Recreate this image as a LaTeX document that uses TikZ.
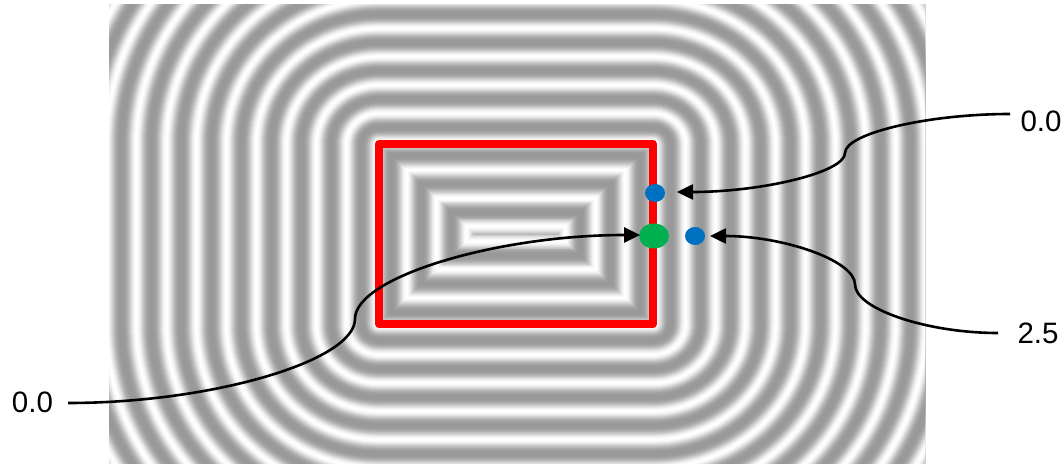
\documentclass[tikz,border=0pt]{standalone}
\usepackage{fontspec}
\setmainfont{Liberation Sans}
\usetikzlibrary{arrows.meta,shapes.geometric}
\definecolor{dotblue}{HTML}{0070C0}
\definecolor{dotgreen}{HTML}{00B050}
\tikzset{
  conn/.style={line width=2.6pt, -{Triangle[length=16pt,width=15pt]}},
  lbl/.style={font=\fontsize{29.5}{32}\selectfont, inner sep=0pt},
  dot/.style={ellipse, inner sep=0pt, draw=none}
}
\begin{document}
\begin{tikzpicture}[x=1pt,y=1pt]
\useasboundingbox (0,0) rectangle (1064,463);
\begin{scope}
\clip (109,0) rectangle (925,458);
\fill[white] (109,0) rectangle (925,458);
\def\XA{379}\def\XB{653}\def\YA{139}\def\YB{319}
\def\PX{30}\def\PY{28.3}\def\PH{0.1}
\foreach \i in {315,314,...,1}{
  \pgfmathsetmacro\u{\i/30}
  \pgfmathsetmacro\rx{\u*\PX}
  \pgfmathsetmacro\ry{\u*\PY}
  \pgfmathsetmacro\v{40*(1-pow((1+cos(360*(\u-\PH)))/2+0.00001,1.5))}
  \fill[black!\v] ({\XA-\rx},\YA) -- ({\XA-\rx},\YB)
    arc[start angle=180,end angle=90,x radius=\rx,y radius=\ry] -- (\XB,{\YB+\ry})
    arc[start angle=90,end angle=0,x radius=\rx,y radius=\ry] -- ({\XB+\rx},\YA)
    arc[start angle=0,end angle=-90,x radius=\rx,y radius=\ry] -- (\XA,{\YA-\ry})
    arc[start angle=270,end angle=180,x radius=\rx,y radius=\ry] -- cycle;
}
\foreach \i in {0,1,...,95}{
  \pgfmathsetmacro\u{\i/30}
  \pgfmathsetmacro\rx{\u*\PX}
  \pgfmathsetmacro\ry{\u*\PY}
  \pgfmathsetmacro\v{40*(1-pow((1+cos(360*(-\u-\PH)))/2+0.00001,1.5))}
  \fill[black!\v] ({\XA+\rx},{\YA+\ry}) rectangle ({\XB-\rx},{\YB-\ry});
}
\end{scope}
% red rectangle
\draw[red, line width=8pt, line join=round] (379,139) rectangle (653,319);
% dots
\node[dot, fill=dotblue, minimum width=20pt, minimum height=18pt] (b1) at (655,270) {};
\node[dot, fill=dotblue, minimum width=20pt, minimum height=18pt] (b2) at (695,227) {};
\node[dot, fill=dotgreen, minimum width=30pt, minimum height=25pt] (g1) at (654,227) {};
% labels
\node[lbl] (lA) at (1041,342) {0.0};
\node[lbl] (lB) at (1038,130) {2.5};
\node[lbl] (lC) at (32.5,60.5) {0.0};
% connector ends
\coordinate (sA) at (1010,349);
\coordinate (tA) at (677,271);
\coordinate (sB) at (998,130);
\coordinate (tB) at (710,227);
\coordinate (sC) at (68,60);
\coordinate (tC) at (640,228);
\draw[conn] (sA) .. controls (927.5,349) and (845,329.5) .. (845,310)
  .. controls (845,290.5) and (761,271) .. (tA);
\draw[conn] (sB) .. controls (926.5,130) and (855,154.25) .. (855,178.5)
  .. controls (855,202.75) and (782.5,227) .. (tB);
\draw[conn] (sC) .. controls (211.5,60) and (355,102) .. (355,144)
  .. controls (355,186) and (497.5,228) .. (tC);
\end{tikzpicture}
\end{document}
